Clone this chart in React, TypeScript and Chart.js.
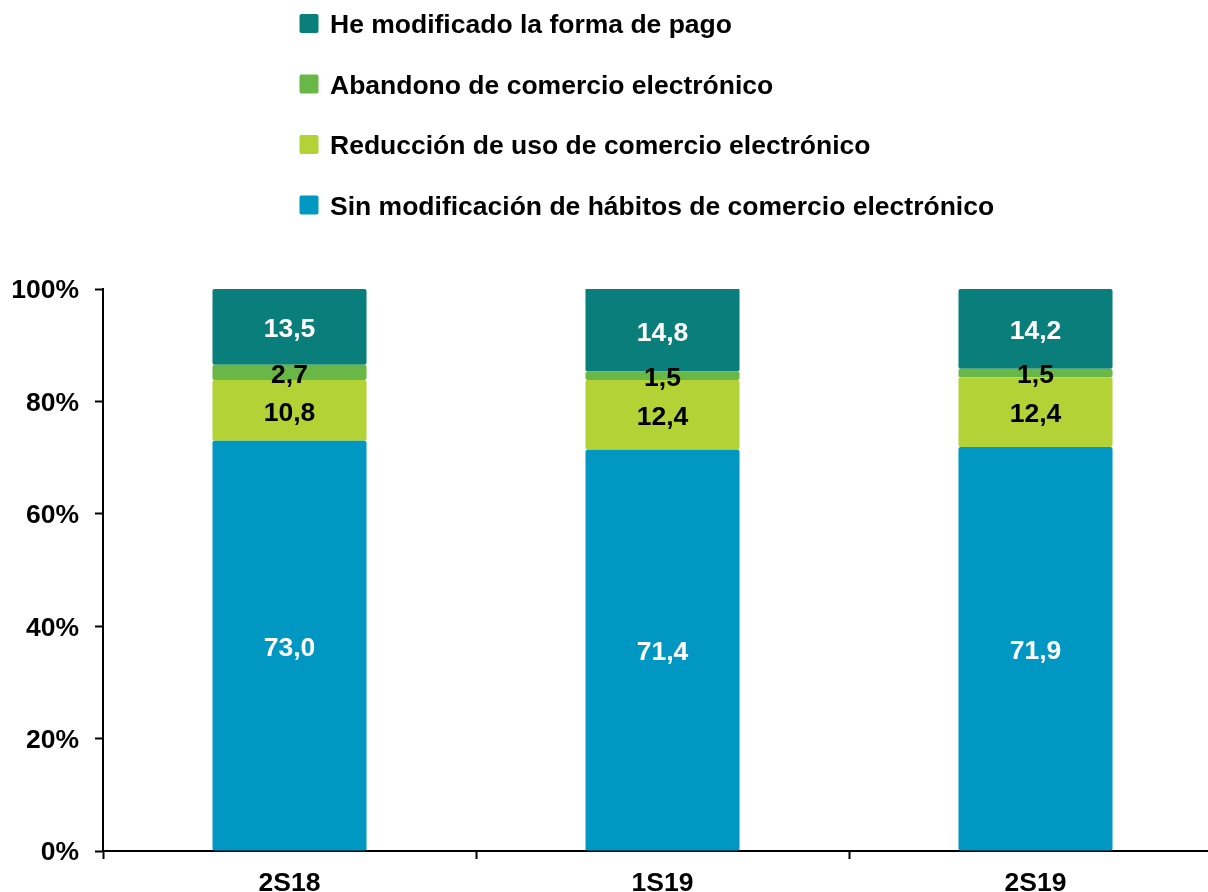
import React, { useEffect, useRef } from "react";
import { Chart, registerables } from "chart.js";

Chart.register(...registerables);

const categories = ["2S18", "1S19", "2S19"];
const sinModificacion = [73.0, 71.4, 71.9];
const reduccion = [10.8, 12.4, 12.4];
const abandono = [2.7, 1.5, 1.5];
const formaPago = [13.5, 14.8, 14.2];
const yTicks = [0, 20, 40, 60, 80, 100];

const seriesNames = [
  "Sin modificación de hábitos de comercio electrónico",
  "Reducción de uso de comercio electrónico",
  "Abandono de comercio electrónico",
  "He modificado la forma de pago",
];
const seriesColors = ["#0098C3", "#B2D235", "#69B746", "#0A7E7A"];
const labelColors = ["#FFFFFF", "#000000", "#000000", "#FFFFFF"];

const FONT = "'Liberation Sans', Arial, sans-serif";
const CANVAS_W = 1232;

const labelsPlugin = {
  id: "segLabels",
  afterDatasetsDraw(chart: any) {
    const ctx = chart.ctx;
    ctx.save();
    ctx.font = `bold 26.5px ${FONT}`;
    ctx.textAlign = "center";
    ctx.textBaseline = "middle";
    chart.data.datasets.forEach((ds: any, di: number) => {
      const meta = chart.getDatasetMeta(di);
      meta.data.forEach((bar: any, i: number) => {
        const v = ds.data[i];
        const top = Math.max(bar.y, chart.chartArea.top);
        const cy = (top + bar.base) / 2;
        ctx.fillStyle = labelColors[di];
        ctx.fillText(v.toFixed(1).replace(".", ","), bar.x, cy + 3);
      });
    });
    ctx.restore();
  },
};

const legendPlugin = {
  id: "customLegend",
  afterDraw(chart: any) {
    const ctx = chart.ctx;
    ctx.save();
    ctx.font = `bold 26.5px ${FONT}`;
    ctx.textAlign = "left";
    ctx.textBaseline = "alphabetic";
    const order = [3, 2, 1, 0];
    order.forEach((di, row) => {
      const cy = 23.5 + row * 60.5;
      ctx.fillStyle = seriesColors[di];
      ctx.beginPath();
      (ctx as any).roundRect(299.5, cy - 9.5, 19, 19, 2);
      ctx.fill();
      ctx.fillStyle = "#000000";
      ctx.fillText(chart.data.datasets[di].label, 330, cy + 9.5);
    });
    ctx.restore();
  },
};

export default function App() {
  const ref = useRef<HTMLCanvasElement>(null);
  useEffect(() => {
    if (!ref.current) return;
    const values = [sinModificacion, reduccion, abandono, formaPago];
    const chart = new Chart(ref.current, {
      type: "bar",
      data: {
        labels: categories,
        datasets: values.map((d, i) => ({
          label: seriesNames[i],
          data: d,
          backgroundColor: seriesColors[i],
          borderWidth: 0,
          borderRadius: { topLeft: 2, topRight: 2, bottomLeft: 2, bottomRight: 2 },
          borderSkipped: false,
          barPercentage: 0.413,
          categoryPercentage: 1,
        })),
      },
      options: {
        animation: false,
        responsive: false,
        maintainAspectRatio: false,
        layout: { padding: { top: 289, left: 13, right: CANVAS_W - 1222, bottom: 0 } },
        plugins: {
          legend: { display: false },
          tooltip: { enabled: false },
        },
        scales: {
          x: {
            stacked: true,
            afterFit: (s: any) => {
              s.height = 41;
            },
            grid: {
              offset: true,
              drawOnChartArea: false,
              drawTicks: true,
              tickLength: 8,
              tickWidth: 2,
              tickColor: "#000000",
              color: "#000000",
            },
            border: { display: true, color: "#000000", width: 2 },
            ticks: {
              color: "#000000",
              padding: 9,
              font: { family: FONT, size: 26.5, weight: "bold" },
            },
          },
          y: {
            stacked: true,
            min: 0,
            max: 100,
            afterFit: (s: any) => {
              s.width = 90;
            },
            afterBuildTicks: (s: any) => {
              s.ticks = yTicks.map((v) => ({ value: v }));
            },
            grid: {
              drawOnChartArea: false,
              drawTicks: true,
              tickLength: 8,
              tickWidth: 2,
              tickColor: "#000000",
              color: "#000000",
            },
            border: { display: true, color: "#000000", width: 2 },
            ticks: {
              color: "#000000",
              padding: 16,
              labelOffset: 2,
              font: { family: FONT, size: 26.5, weight: "bold" },
              callback: (v: any) => `${v}%`,
            },
          },
        },
      },
      plugins: [labelsPlugin, legendPlugin],
    });
    return () => chart.destroy();
  }, []);
  return (
    <div
      style={{
        position: "fixed",
        left: 0,
        top: 0,
        width: 1208,
        height: 892,
        overflow: "hidden",
        background: "#fff",
      }}
    >
      <canvas
        ref={ref}
        width={CANVAS_W}
        height={892}
        style={{ width: CANVAS_W, height: 892, display: "block" }}
      />
    </div>
  );
}
